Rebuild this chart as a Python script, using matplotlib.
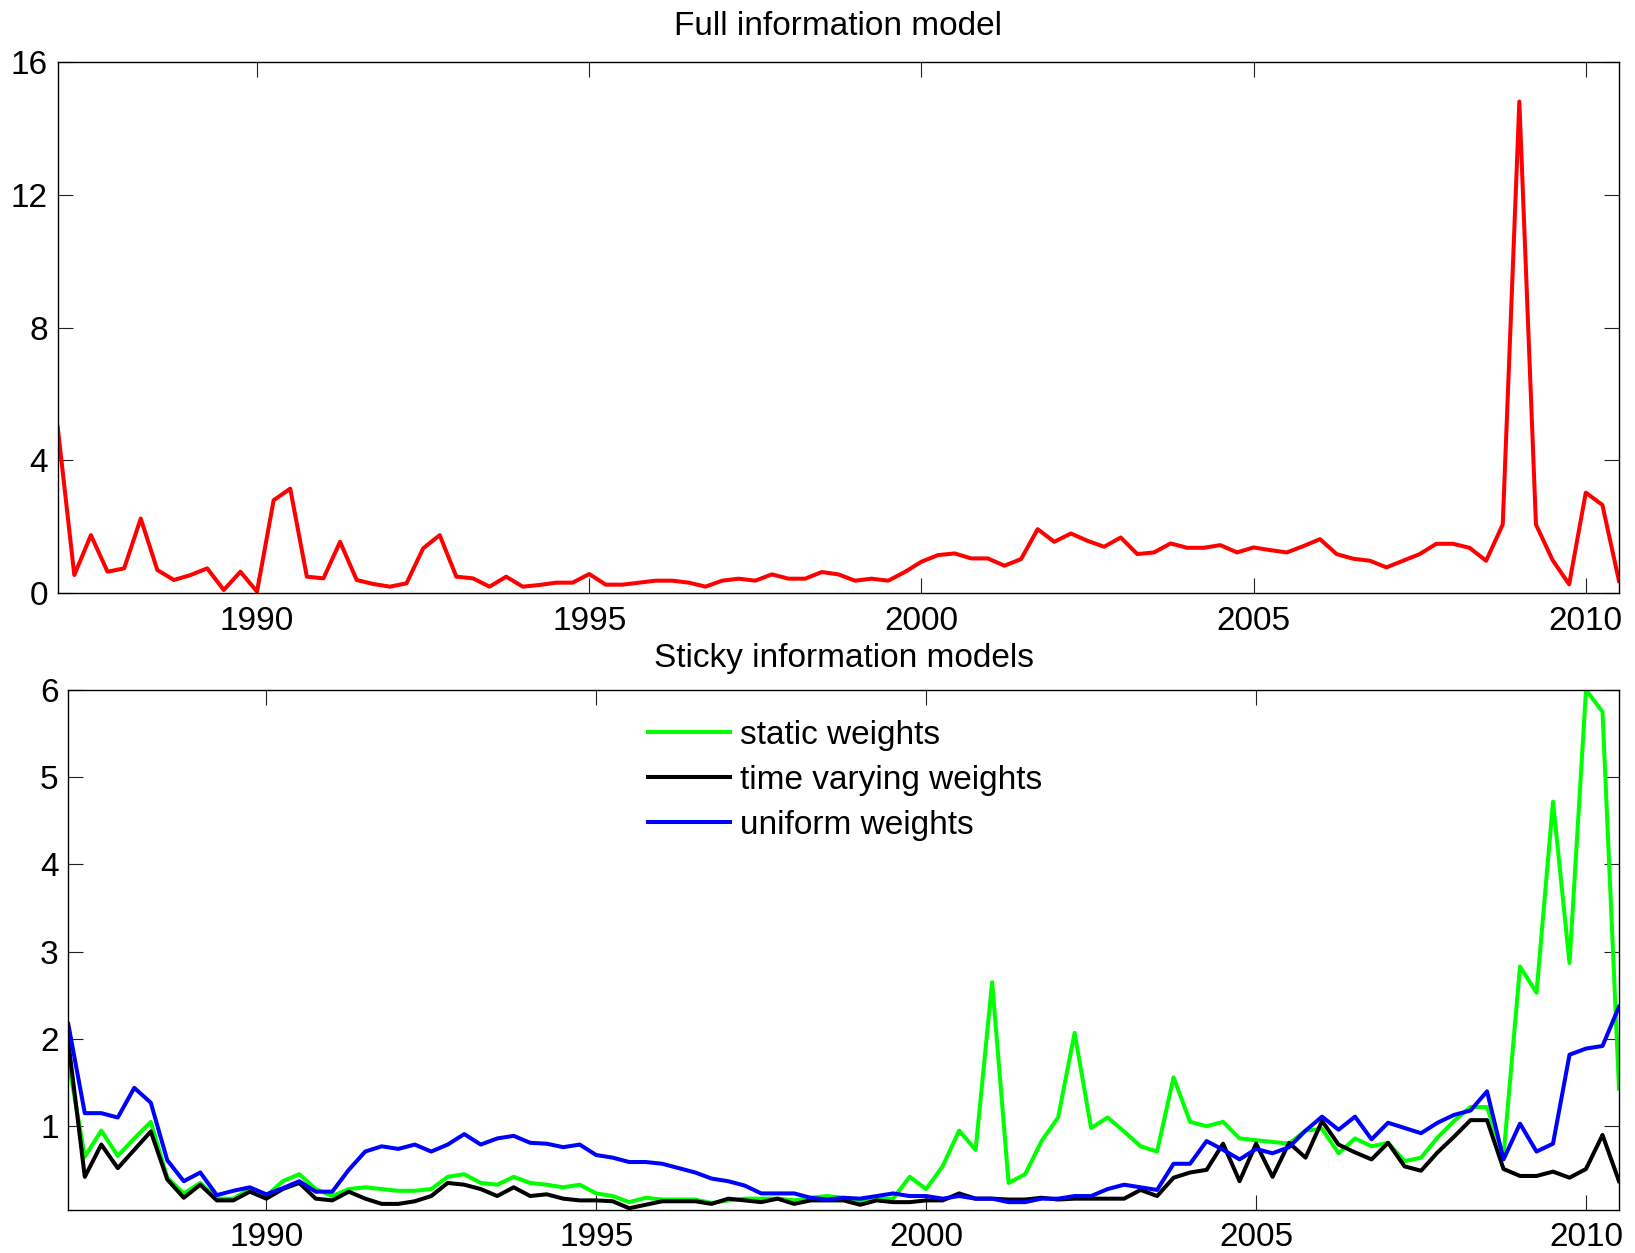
import numpy as np
import matplotlib
matplotlib.use("Agg")
import matplotlib.pyplot as plt

plt.rcParams['font.family'] = ['Liberation Sans', 'DejaVu Sans']

start_year = 1987.0
years_ticks = [1990, 1995, 2000, 2005, 2010]
top_yticks = [0, 4, 8, 12, 16]
bot_yticks = [1, 2, 3, 4, 5, 6]

full_info = [5.0, 0.55, 1.75, 0.65,
             0.75, 2.25, 0.7, 0.4,
             0.55, 0.75, 0.1, 0.65,
             0.05, 2.8, 3.15, 0.5,
             0.45, 1.55, 0.4, 0.28,
             0.2, 0.3, 1.35, 1.75,
             0.5, 0.45, 0.2, 0.5,
             0.2, 0.25, 0.32, 0.32,
             0.58, 0.26, 0.26, 0.32,
             0.38, 0.38, 0.32, 0.2,
             0.38, 0.44, 0.38, 0.57,
             0.44, 0.44, 0.64, 0.57,
             0.38, 0.44, 0.38, 0.64,
             0.95, 1.15, 1.2, 1.05,
             1.05, 0.83, 1.03, 1.93,
             1.55, 1.8, 1.58, 1.4,
             1.68, 1.18, 1.23, 1.5,
             1.37, 1.37, 1.45, 1.23,
             1.38, 1.3, 1.23, 1.42,
             1.63, 1.18, 1.04, 0.98,
             0.78, 0.98, 1.18, 1.49,
             1.49, 1.37, 0.98, 2.07,
             14.8, 2.07, 1.0, 0.27,
             3.03, 2.66, 0.37]

static_w = [1.75, 0.65, 0.95, 0.66,
            0.86, 1.05, 0.41, 0.23,
            0.35, 0.17, 0.17, 0.28,
            0.2, 0.37, 0.45, 0.28,
            0.2, 0.28, 0.3, 0.28,
            0.26, 0.26, 0.28, 0.42,
            0.45, 0.35, 0.33, 0.42,
            0.35, 0.33, 0.3, 0.33,
            0.23, 0.2, 0.13, 0.18,
            0.16, 0.16, 0.16, 0.12,
            0.15, 0.17, 0.17, 0.17,
            0.15, 0.18, 0.2, 0.18,
            0.14, 0.17, 0.17, 0.42,
            0.28, 0.54, 0.95, 0.73,
            2.65, 0.35, 0.45, 0.83,
            1.1, 2.07, 0.98, 1.1,
            0.94, 0.77, 0.71, 1.56,
            1.05, 1.0, 1.05, 0.86,
            0.84, 0.82, 0.8, 0.95,
            0.97, 0.69, 0.86, 0.77,
            0.81, 0.6, 0.64, 0.87,
            1.06, 1.22, 1.22, 0.66,
            2.83, 2.53, 4.72, 2.87,
            6.0, 5.75, 1.43]

time_varying_w = [1.97, 0.42, 0.79, 0.52,
                  0.73, 0.94, 0.39, 0.18,
                  0.33, 0.15, 0.15, 0.25,
                  0.17, 0.28, 0.35, 0.17,
                  0.15, 0.25, 0.17, 0.11,
                  0.11, 0.14, 0.2, 0.35,
                  0.33, 0.28, 0.2, 0.3,
                  0.2, 0.22, 0.17, 0.15,
                  0.15, 0.14, 0.06, 0.1,
                  0.14, 0.14, 0.14, 0.11,
                  0.17, 0.15, 0.13, 0.17,
                  0.11, 0.15, 0.15, 0.15,
                  0.1, 0.15, 0.13, 0.13,
                  0.15, 0.15, 0.23, 0.17,
                  0.17, 0.16, 0.16, 0.18,
                  0.16, 0.17, 0.17, 0.17,
                  0.17, 0.27, 0.2, 0.41,
                  0.47, 0.5, 0.8, 0.37,
                  0.8, 0.42, 0.81, 0.64,
                  1.06, 0.79, 0.7, 0.62,
                  0.81, 0.54, 0.49, 0.7,
                  0.88, 1.07, 1.07, 0.51,
                  0.43, 0.43, 0.48, 0.41,
                  0.51, 0.9, 0.37]

uniform_w = [2.17, 1.15, 1.15, 1.1,
             1.44, 1.27, 0.61, 0.37,
             0.47, 0.21, 0.26, 0.3,
             0.22, 0.29, 0.37, 0.25,
             0.25, 0.5, 0.71, 0.77,
             0.74, 0.79, 0.71, 0.79,
             0.91, 0.79, 0.86, 0.89,
             0.81, 0.8, 0.76, 0.79,
             0.67, 0.64, 0.59, 0.59,
             0.57, 0.52, 0.47, 0.4,
             0.37, 0.32, 0.23, 0.23,
             0.23, 0.18, 0.16, 0.18,
             0.17, 0.2, 0.23, 0.2,
             0.2, 0.17, 0.2, 0.17,
             0.17, 0.13, 0.13, 0.17,
             0.17, 0.2, 0.2, 0.28,
             0.33, 0.3, 0.27, 0.57,
             0.57, 0.83, 0.73, 0.62,
             0.74, 0.69, 0.76, 0.95,
             1.11, 0.96, 1.11, 0.85,
             1.04, 0.98, 0.92, 1.04,
             1.13, 1.18, 1.4, 0.62,
             1.03, 0.71, 0.8, 1.82,
             1.89, 1.92, 2.37]

n = len(full_info)
dates = start_year + np.arange(n) / 4.0

W, H = 1635, 1253
fig = plt.figure(figsize=(W / 100, H / 100), dpi=100)

def frac_box(l, t, r, b):
    return [l / W, 1 - b / H, (r - l) / W, (b - t) / H]

ax1 = fig.add_axes(frac_box(57.7, 61.7, 1619, 593.3))
ax2 = fig.add_axes(frac_box(68.3, 690, 1619, 1210))

FS = 24
for ax in (ax1, ax2):
    ax.tick_params(axis='both', which='both', direction='in', length=11, width=0.8,
                   top=True, right=True, labelsize=FS, color='#222222')
    ax.tick_params(axis='x', pad=9)
    ax.tick_params(axis='y', pad=7)
    for s in ax.spines.values():
        s.set_linewidth(1.0)
        s.set_color('black')
    ax.set_xticks(years_ticks)
    ax.set_xticklabels([str(y) for y in years_ticks])

ax1.plot(dates, full_info, color=(1, 0, 0), lw=2.9)
ax1.set_xlim(dates[0], dates[-1])
ax1.set_ylim(0, 16)
ax1.set_yticks(top_yticks)
ax1.set_title('Full information model', fontsize=FS, pad=19)

ax2.plot(dates, static_w, color=(0, 1, 0), lw=2.9, label='static weights')
ax2.plot(dates, time_varying_w, color='black', lw=2.9, label='time varying weights')
ax2.plot(dates, uniform_w, color=(0, 0, 1), lw=2.9, label='uniform weights')
ax2.set_xlim(dates[0], dates[-1])
ax2.set_ylim(0.04, 6.0)
ax2.set_yticks(bot_yticks)
ax2.set_title('Sticky information models', fontsize=FS, pad=16.5)
ax2.legend(loc='upper left', bbox_to_anchor=(0.3738, 0.942), frameon=False,
           fontsize=FS, handlelength=2.45, handletextpad=0.3, labelspacing=0.42,
           borderpad=0, borderaxespad=0)

fig.savefig('out.png', dpi=100)
